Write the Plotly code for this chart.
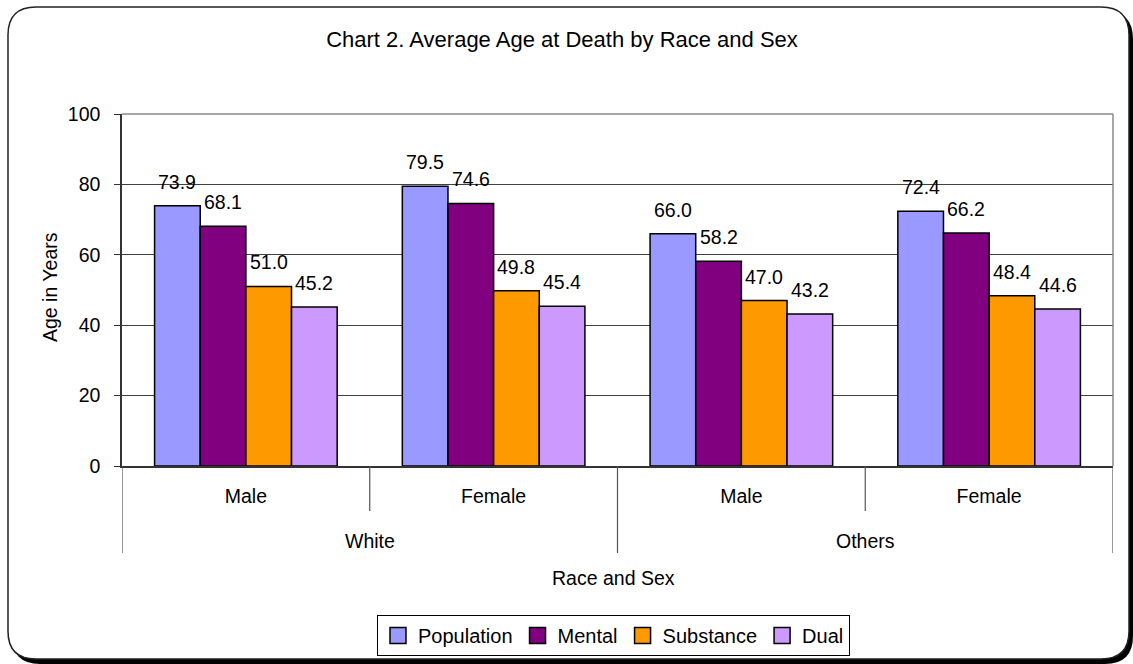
import plotly.graph_objects as go

# ---------------- data ----------------
race = ["White", "White", "Others", "Others"]
sex = ["Male", "Female", "Male", "Female"]
series_names = ["Population", "Mental", "Substance", "Dual"]
population = [73.9, 79.5, 66.0, 72.4]
mental = [68.1, 74.6, 58.2, 66.2]
substance = [51.0, 49.8, 47.0, 48.4]
dual = [45.2, 45.4, 43.2, 44.6]
y_ticks = [0, 20, 40, 60, 80, 100]

values = [population, mental, substance, dual]
colors = ["#9999FF", "#800080", "#FF9900", "#CC99FF"]

FONT = "Liberation Sans, Arial, sans-serif"
W, H = 1133, 664
L, R, T, B = 122, 20, 114, 198
PW, PH = W - L - R, H - T - B
BOT = H - B
BARGAP = 0.263

cats = [f"{r} {s}" for r, s in zip(race, sex)]


def pp(px, py):
    return (px - L) / PW, (BOT - py) / PH


def rounded_path(x0, y0, x1, y1, r):
    def P(x, y):
        a, b = pp(x, y)
        return f"{a:.5f},{b:.5f}"
    return (f"M{P(x0 + r, y0)} L{P(x1 - r, y0)} Q{P(x1, y0)} {P(x1, y0 + r)} "
            f"L{P(x1, y1 - r)} Q{P(x1, y1)} {P(x1 - r, y1)} L{P(x0 + r, y1)} "
            f"Q{P(x0, y1)} {P(x0, y1 - r)} L{P(x0, y0 + r)} Q{P(x0, y0)} {P(x0 + r, y0)} Z")


fig = go.Figure()
for name, vals, col in zip(series_names, values, colors):
    fig.add_trace(go.Bar(
        x=cats, y=vals, name=name, showlegend=False,
        marker=dict(color=col, line=dict(color="black", width=1.5)),
    ))
# legend entries with larger square swatches
for name, col in zip(series_names, colors):
    fig.add_trace(go.Scatter(
        x=[None], y=[None], mode="markers", name=name,
        marker=dict(symbol="square", size=16, color=col,
                    line=dict(color="black", width=1.5)),
    ))

annotations = []
n = len(series_names)
w = (1 - BARGAP) / n
for i, vals in enumerate(values):
    off = (i - (n - 1) / 2) * w
    for j, v in enumerate(vals):
        annotations.append(dict(
            x=j + off, y=v, xref="x", yref="y", text=f"{v:.1f}",
            showarrow=False, yanchor="bottom", yshift=11,
            font=dict(family=FONT, size=19.5, color="black"),
        ))

# race (outer level) labels
groups = {}
for j, r in enumerate(race):
    groups.setdefault(r, []).append(j)
for r, idx in groups.items():
    annotations.append(dict(
        x=sum(idx) / len(idx), y=pp(0, 541)[1], xref="x", yref="paper",
        text=r, showarrow=False, yanchor="middle",
        font=dict(family=FONT, size=19.5, color="black"),
    ))

annotations.append(dict(
    x=pp(613, 0)[0], y=pp(0, 578)[1], xref="paper", yref="paper",
    text="Race and Sex", showarrow=False, yanchor="middle", xanchor="center",
    font=dict(family=FONT, size=19.5, color="black"),
))
annotations.append(dict(
    x=pp(50, 0)[0], y=pp(0, 287)[1], xref="paper", yref="paper",
    text="Age in Years", showarrow=False, textangle=-90,
    yanchor="middle", xanchor="center",
    font=dict(family=FONT, size=19.5, color="black"),
))

shapes = []
# shadow and outer frame
shapes.append(dict(type="path", xref="paper", yref="paper", layer="below",
                   path=rounded_path(12, 11, 1133, 664, 28),
                   fillcolor="black", line=dict(width=0)))
shapes.append(dict(type="path", xref="paper", yref="paper", layer="below",
                   path=rounded_path(8, 7, 1129, 659, 28),
                   fillcolor="white", line=dict(color="#222222", width=1.5)))
# plot-area top and right borders (gray)
shapes.append(dict(type="line", xref="paper", yref="paper", x0=0, x1=1, y0=1, y1=1,
                   layer="above", line=dict(color="#888888", width=1.5)))
shapes.append(dict(type="line", xref="paper", yref="paper", x0=1, x1=1, y0=0, y1=1,
                   layer="above", line=dict(color="#888888", width=1.5)))
# category dividers
long_y = pp(0, 553)[1]
short_y = pp(0, 511)[1]
for k in range(len(cats) + 1):
    xpos = k - 0.5
    is_outer = k == 0 or k == len(cats) or race[k - 1] != race[k]
    shapes.append(dict(type="line", xref="x", yref="paper",
                       x0=xpos, x1=xpos, y0=0, y1=long_y if is_outer else short_y,
                       line=dict(color="#555555", width=1.2)))

fig.update_layout(
    width=W, height=H,
    margin=dict(l=L, r=R, t=T, b=B, pad=0),
    paper_bgcolor="white", plot_bgcolor="white",
    barmode="group", bargap=BARGAP, bargroupgap=0,
    font=dict(family=FONT, size=19.5, color="black"),
    title=dict(text="Chart 2. Average Age at Death by Race and Sex",
               x=562 / W, xanchor="center", y=1 - 39 / H, yanchor="middle",
               font=dict(family=FONT, size=22, color="black")),
    xaxis=dict(type="category", tickvals=cats, ticktext=sex,
               showline=True, linecolor="#333333", linewidth=1.5,
               ticks="", showgrid=False, ticklabelstandoff=12,
               tickfont=dict(family=FONT, size=19.5, color="black"),
               range=[-0.5, len(cats) - 0.5]),
    yaxis=dict(range=[0, 100], tickvals=y_ticks, showgrid=True,
               gridcolor="#404040", gridwidth=1, zeroline=False,
               showline=True, linecolor="#333333", linewidth=1.5,
               ticks="outside", ticklen=6, tickcolor="#333333",
               ticklabelstandoff=10,
               tickfont=dict(family=FONT, size=19.5, color="black")),
    legend=dict(orientation="h", x=613.5 / W, xref="container",
                y=1 - 635.5 / H, yref="container",
                xanchor="center", yanchor="middle",
                bordercolor="black", borderwidth=1, bgcolor="white",
                font=dict(family=FONT, size=20, color="black"),
                itemwidth=30, tracegroupgap=0),
    annotations=annotations,
    shapes=shapes,
)

fig.write_html("out.html", config={"displayModeBar": False})

# remove the browser's default body margin so the figure sits at (0, 0)
with open("out.html", "r", encoding="utf-8") as f:
    html = f.read()
html = html.replace("<head>", "<head><style>html,body{margin:0;padding:0;overflow:hidden;}</style>", 1)
with open("out.html", "w", encoding="utf-8") as f:
    f.write(html)
